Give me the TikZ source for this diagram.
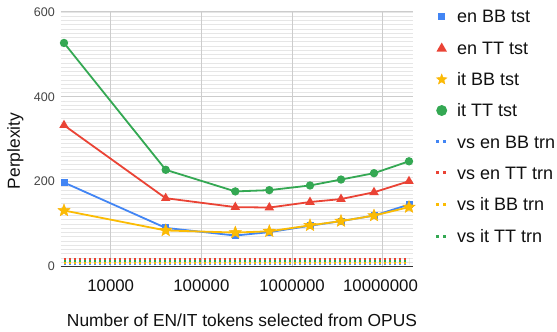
\documentclass[tikz,border=0pt]{standalone}
\usepackage{fontspec}
\setmainfont{Liberation Sans}
\usetikzlibrary{shapes.geometric}
\definecolor{gblue}{HTML}{4285F4}
\definecolor{gred}{HTML}{EA4335}
\definecolor{gyellow}{HTML}{FBBC04}
\definecolor{ggreen}{HTML}{34A853}
\definecolor{majgrid}{HTML}{CCCCCC}
\definecolor{mingrid}{HTML}{E6E6E6}
\definecolor{axisdark}{HTML}{333333}
\definecolor{ticktext}{HTML}{444444}
\definecolor{titletext}{HTML}{111111}
\tikzset{
  series/.style={line width=1.8pt, line join=round},
  sqmark/.style={rectangle, fill=gblue, minimum size=7pt, inner sep=0pt},
  trimark/.style={regular polygon, regular polygon sides=3, fill=gred, minimum size=11pt, inner sep=0pt},
  starmark/.style={star, star points=5, star point ratio=2.3, fill=gyellow, draw=gyellow!85!orange, line width=0.4pt, minimum size=13pt, inner sep=0pt},
  dotmark/.style={circle, fill=ggreen, minimum size=8.4pt, inner sep=0pt},
  trnline/.style={line width=2pt, dash pattern=on 2pt off 3pt},
  legtext/.style={anchor=base west, inner sep=0pt, text=titletext, font=\fontsize{18}{21}\selectfont},
  ytick/.style={anchor=east, inner sep=0pt, text=ticktext, font=\fontsize{12.5}{15}\selectfont},
  xtick/.style={anchor=base, inner sep=0pt, text=titletext, font=\fontsize{16.8}{20}\selectfont},
  axtitle/.style={inner sep=0pt, text=titletext, font=\fontsize{17.4}{21}\selectfont}
}
\begin{document}
\begin{tikzpicture}[x=1pt,y=-1pt]
\useasboundingbox (0,0) rectangle (557,332);
% minor grid
\foreach \v in {0,10,...,600}
  \draw[mingrid, line width=0.7pt] (60.7,{266.5-\v*0.4242}) -- (413.3,{266.5-\v*0.4242});
% major grid
\foreach \v in {200,400,600}
  \draw[majgrid, line width=1pt] (60.7,{266.5-\v*0.4242}) -- (413.3,{266.5-\v*0.4242});
\foreach \x in {110.7,201.4,292.1,382.8}
  \draw[majgrid, line width=1pt] (\x,12) -- (\x,266.5);
% y tick labels
\foreach \v in {0,200,400,600}
  \node[ytick] (yl\v) at (55,{266.5-\v*0.4242}) {\v};
% x tick labels
\node[xtick] (xl4) at (110.7,291.7) {10000};
\node[xtick] (xl5) at (201.4,291.7) {100000};
\node[xtick] (xl6) at (292.1,291.7) {1000000};
\node[xtick] (xl7) at (380.5,291.7) {10000000};
% axis titles
\node[axtitle, anchor=base] (xt) at (242,326.7) {Number of EN/IT tokens selected from OPUS};
\node[axtitle, rotate=90] (yt) at (15.5,151) {Perplexity};
% data coordinates
\foreach \i/\x/\b/\r/\y/\g in {
  1/64/198/333/132/527,
  2/165.7/91/161/85/228,
  3/235.3/73/140/80/177,
  4/269.3/81/139/83/180,
  5/310/96/152/97/191,
  6/341/107/159/107/205,
  7/374/120/175/120/220,
  8/409/146/201/140/248}{
  \coordinate (b\i) at (\x,{266.5-\b*0.4242});
  \coordinate (r\i) at (\x,{266.5-\r*0.4242});
  \coordinate (y\i) at (\x,{266.5-\y*0.4242});
  \coordinate (g\i) at (\x,{266.5-\g*0.4242});
}
% training reference lines (dotted)
\coordinate (tb0) at (64,263.6);  \coordinate (tb1) at (409,263.6);
\coordinate (ty0) at (64,263);    \coordinate (ty1) at (409,263);
\coordinate (tg0) at (64,261);    \coordinate (tg1) at (409,261);
\coordinate (tr0) at (64,259);    \coordinate (tr1) at (409,259);
% axis line
\coordinate (ax0) at (60.7,266.5); \coordinate (ax1) at (413.3,266.5);
\draw[axisdark, line width=1.2pt] (ax0) -- (ax1);
% series
\draw[series, gblue] (b1) -- (b2) -- (b3) -- (b4) -- (b5) -- (b6) -- (b7) -- (b8);
\foreach \i in {1,...,8} \node[sqmark] (bm\i) at (b\i) {};
\draw[series, gred] (r1) -- (r2) -- (r3) -- (r4) -- (r5) -- (r6) -- (r7) -- (r8);
\foreach \i in {1,...,8} \node[trimark] (rm\i) at (r\i) {};
\draw[series, gyellow] (y1) -- (y2) -- (y3) -- (y4) -- (y5) -- (y6) -- (y7) -- (y8);
\foreach \i in {1,...,8} \node[starmark] (ym\i) at (y\i) {};
\draw[series, ggreen] (g1) -- (g2) -- (g3) -- (g4) -- (g5) -- (g6) -- (g7) -- (g8);
\foreach \i in {1,...,8} \node[dotmark] (gm\i) at (g\i) {};
\draw[trnline, gblue] (tb0) -- (tb1);
\draw[trnline, gyellow] (ty0) -- (ty1);
\draw[trnline, ggreen] (tg0) -- (tg1);
\draw[trnline, gred] (tr0) -- (tr1);
% legend
\node[sqmark, minimum size=7.5pt] (lm1) at (441.7,16.3) {};
\node[trimark, minimum size=12pt] (lm2) at (441.7,48.5) {};
\node[starmark, minimum size=11pt] (lm3) at (441.7,79.5) {};
\node[dotmark, minimum size=11pt] (lm4) at (441.7,110.5) {};
\foreach \k/\yy/\c in {5/141.7/gblue,6/172.7/gred,7/204/gyellow,8/236/ggreen}{
  \coordinate (la\k) at (436,\yy); \coordinate (lb\k) at (447,\yy);
  \draw[\c, line width=3pt, dash pattern=on 3pt off 4pt] (la\k) -- (lb\k);
}
\node[legtext] (lt1) at (457,22.7) {en BB tst};
\node[legtext] (lt2) at (457,54.9) {en TT tst};
\node[legtext] (lt3) at (457,85.9) {it BB tst};
\node[legtext] (lt4) at (457,116.9) {it TT tst};
\node[legtext] (lt5) at (457,148.1) {vs en BB trn};
\node[legtext] (lt6) at (457,179.1) {vs en TT trn};
\node[legtext] (lt7) at (457,210.4) {vs it BB trn};
\node[legtext] (lt8) at (457,242.4) {vs it TT trn};
\end{tikzpicture}
\end{document}
